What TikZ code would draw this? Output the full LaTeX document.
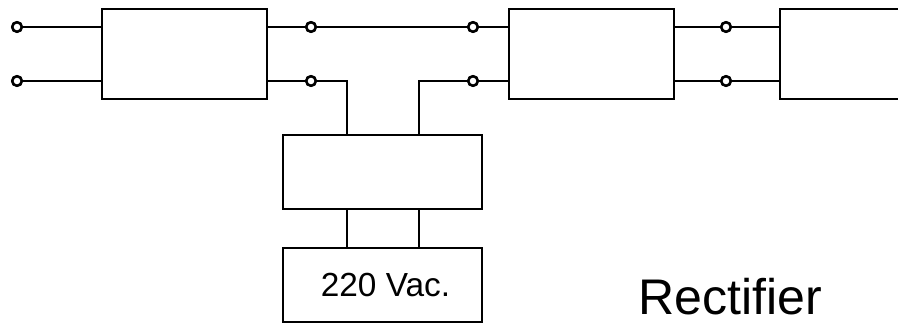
\documentclass[tikz,border=0pt]{standalone}
\usepackage{fontspec}
\setmainfont{Liberation Sans}
\begin{document}
\begin{tikzpicture}[x=0.02cm,y=-0.02cm,line width=1.4pt,
    blok/.style={draw,rectangle,inner sep=0pt,minimum height=1.8cm},
    term/.style={draw,circle,fill=white,inner sep=0pt,minimum size=0.19cm}]
        % Define picture area
        \useasboundingbox (0,0) rectangle (898,324);
        \clip (0,0) rectangle (898,324);
        % Define node positions
        \node[blok,minimum width=3.3cm] (B1) at (184.5,54) {};
        \node[blok,minimum width=3.3cm] (B2) at (591.5,54) {};
        \node[blok,minimum width=2.6cm] (B3) at (845,54) {};
        \node[blok,minimum width=3.98cm,minimum height=1.48cm] (M) at (382.5,172) {};
        \node[blok,minimum width=3.98cm,minimum height=1.48cm,font=\fontsize{19}{22}\selectfont] (S) at (382.5,285) {\hspace*{0.12cm}220 Vac.};
        \node[inner sep=0pt,anchor=base,font=\fontsize{28.5}{32}\selectfont] (R) at (730,314) {Rectifier};
        % Terminals
        \node[term] (a1) at (17,27) {}; \node[term] (b1) at (17,81) {};
        \node[term] (a2) at (311,27) {}; \node[term] (b2) at (311,81) {};
        \node[term] (a3) at (473,27) {}; \node[term] (b3) at (473,81) {};
        \node[term] (a4) at (726,27) {}; \node[term] (b4) at (726,81) {};
        \coordinate (m1) at (347,135); \coordinate (m2) at (419,135);
        \coordinate (s1) at (347,248); \coordinate (s2) at (419,248);
        % Draw wires
        \draw (a1) -- (a1 -| B1.west); \draw (b1) -- (b1 -| B1.west);
        \draw (a2 -| B1.east) -- (a2) -- (a3) -- (a3 -| B2.west);
        \draw (b2 -| B1.east) -- (b2) -| (m1);
        \draw (b3 -| B2.west) -- (b3) -| (m2);
        \draw (a4 -| B2.east) -- (a4) -- (a4 -| B3.west);
        \draw (b4 -| B2.east) -- (b4) -- (b4 -| B3.west);
        \draw (m1 |- M.south) -- (s1); \draw (m2 |- M.south) -- (s2);
        % Redraw terminals on top
        \foreach \t in {a1,b1,a2,b2,a3,b3,a4,b4}
            \node[term] at (\t) {};
    \end{tikzpicture}
\end{document}
